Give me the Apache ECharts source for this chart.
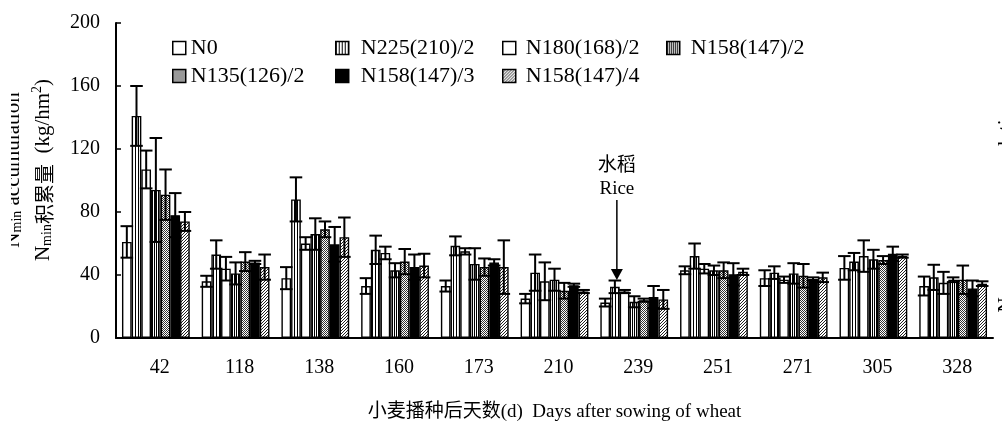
<!DOCTYPE html>
<html><head><meta charset="utf-8">
<script src="https://cdn.jsdelivr.net/npm/echarts@6/dist/echarts.min.js"></script>
<style>html,body{margin:0;padding:0;background:#fff}#c{width:1002px;height:427px}</style>
</head><body><div id="c"></div>
<script>
// ---- data ----
const categories = ['42','118','138','160','173','210','239','251','271','305','328'];
const seriesNames = ['N0','N225(210)/2','N180(168)/2','N158(147)/2','N135(126)/2','N158(147)/3','N158(147)/4'];
const vN0      = [61, 36, 38, 33, 33, 25, 22.5, 43, 38, 44.5, 33];
const eN0      = [10, 3.5, 7, 5, 3.5, 3, 2.5, 2.5, 5, 7.5, 6];
const vN225    = [141, 53, 88, 56, 58.5, 41.5, 32.5, 52, 41.5, 48.5, 38.5];
const eN225    = [19, 9, 14, 9, 6, 11.5, 4, 8, 4, 5.5, 8];
const vN180    = [107, 44, 60, 54, 55, 36, 29.5, 44, 37, 52, 35];
const eN180    = [12, 7.5, 4, 4, 2, 12, 1, 3, 2, 10, 7];
const vN158_2  = [94, 41, 66, 43, 47, 37, 23, 43, 41, 50, 37];
const eN158_2  = [33, 7, 10, 4.5, 10, 7, 3.5, 3, 6.5, 6, 1.5];
const vN135    = [91, 48.5, 69, 48.5, 45, 30, 24, 43, 39.5, 49.5, 37];
const eN135    = [16, 6, 5, 8, 5.5, 5, 1, 5, 7.5, 2.5, 9];
const vN158_3  = [78, 48, 59.5, 45, 48, 33.5, 26, 40.5, 37.5, 53.5, 31.5];
const eN158_3  = [14, 1, 11, 8, 2, 1, 7, 7, 1, 4.5, 5];
const vN158_4  = [74, 45, 64, 46, 45, 29.5, 24.5, 42, 38.5, 52, 34.5];
const eN158_4  = [6, 8, 12.5, 7.5, 17, 1, 6, 2, 3, 1, 1.5];
const yTicks = {min: 0, max: 200, interval: 40};
// annotation: [category index, arrow tip, arrow top, "Rice" y, "水稻" y]
const riceNote = [6, 36.8, 87.6, 94.6, 110.5];

const values = [vN0, vN225, vN180, vN158_2, vN135, vN158_3, vN158_4];
const errors = [eN0, eN225, eN180, eN158_2, eN135, eN158_3, eN158_4];

// ---- patterns ----
function pat(w, h, draw) {
  const c = document.createElement('canvas'); c.width = w; c.height = h;
  const g = c.getContext('2d'); g.fillStyle = '#fff'; g.fillRect(0, 0, w, h);
  g.fillStyle = '#000'; draw(g);
  return {image: c, repeat: 'repeat'};
}
const fills = [
  '#ffffff',
  pat(3, 1, g => g.fillRect(0, 0, 1, 1)),
  '#ffffff',
  pat(2, 1, g => g.fillRect(0, 0, 1, 1)),
  pat(2, 2, g => { g.fillStyle = '#333'; g.fillRect(0, 0, 1, 1); g.fillRect(1, 1, 1, 1); }),
  '#000000',
  pat(3, 3, g => { g.fillStyle = '#222'; g.fillRect(0, 2, 1, 1); g.fillRect(1, 1, 1, 1); g.fillRect(2, 0, 1, 1); })
];

const SERIF = '"Liberation Serif", "Times New Roman", serif';
const CAT_GAP = 0.15, NB = 7;

function errRender(s) {
  return function (params, api) {
    const i = api.value(0), v = api.value(1), e = api.value(2);
    const band = api.size([1, 0])[0];
    const bw = band * (1 - CAT_GAP) / NB;
    const x = api.coord([i, v])[0] + (s - 3) * bw;
    const yT = api.coord([i, v + e])[1], yB = api.coord([i, v - e])[1];
    const cw = bw * 0.65;
    const st = {stroke: '#000', lineWidth: 2};
    return {type: 'group', children: [
      {type: 'line', shape: {x1: x, y1: yT, x2: x, y2: yB}, style: st},
      {type: 'line', shape: {x1: x - cw, y1: yT, x2: x + cw, y2: yT}, style: st},
      {type: 'line', shape: {x1: x - cw, y1: yB, x2: x + cw, y2: yB}, style: st}
    ]};
  };
}

const series = [];
seriesNames.forEach((name, s) => {
  series.push({
    type: 'bar', name: name, data: values[s],
    barGap: '0%', barCategoryGap: (CAT_GAP * 100) + '%',
    itemStyle: {color: fills[s], borderColor: '#000', borderWidth: 1.4},
    silent: true, z: 2
  });
});
seriesNames.forEach((name, s) => {
  series.push({
    type: 'custom', name: name + ' SD', silent: true, z: 3,
    renderItem: errRender(s),
    data: categories.map((c, i) => [i, values[s][i], errors[s][i]])
  });
});
series.push({
  type: 'custom', name: 'rice', silent: true, z: 4,
  data: [riceNote],
  renderItem: function (params, api) {
    const i = api.value(0);
    const band = api.size([1, 0])[0];
    const bw = band * (1 - CAT_GAP) / NB;
    const x = api.coord([i, 0])[0] + (1 - 3) * bw + 2;
    const yTip = api.coord([i, api.value(1)])[1];
    const yTop = api.coord([i, api.value(2)])[1];
    const yRice = api.coord([i, api.value(3)])[1];
    const yZh = api.coord([i, api.value(4)])[1];
    return {type: 'group', children: [
      {type: 'line', shape: {x1: x, y1: yTop, x2: x, y2: yTip - 8}, style: {stroke: '#000', lineWidth: 1.5}},
      {type: 'polygon', shape: {points: [[x - 6, yTip - 11], [x + 6, yTip - 11], [x, yTip]]}, style: {fill: '#000'}},
      {type: 'text', x: x, y: yRice, style: {text: 'Rice', font: '19px ' + SERIF, fill: '#000', align: 'center', verticalAlign: 'middle'}},
      {type: 'text', x: x, y: yZh, style: {text: '水稻', font: '19px "Noto Sans CJK SC", sans-serif', fill: '#000', align: 'center', verticalAlign: 'middle'}}
    ]};
  }
});

const legPos = [[172, 48, 0], [335, 48, 7], [502, 48, 5], [666, 48, 6], [172, 76, 0], [335, 76, 7], [502, 76, 5]];
const legends = seriesNames.map((name, s) => ({
  data: [name], left: legPos[s][0], top: legPos[s][1] - 11, padding: 0,
  itemWidth: 13, itemHeight: 13, icon: 'rect', selectedMode: false,
  itemStyle: {borderColor: '#000', borderWidth: 1.5},
  textStyle: {fontFamily: SERIF, fontSize: 22, color: '#000', padding: [0, 0, 0, legPos[s][2]]}
}));

const richY = {
  n: {fontFamily: SERIF + ', "Noto Sans CJK SC"', fontSize: 21, color: '#000', lineHeight: 24, verticalAlign: 'bottom'},
  z: {fontFamily: '"Noto Sans CJK SC", sans-serif', fontSize: 20, color: '#000', lineHeight: 24, verticalAlign: 'bottom'},
  s: {fontFamily: SERIF, fontSize: 14, color: '#000', lineHeight: 14, verticalAlign: 'bottom'},
  p: {fontFamily: SERIF, fontSize: 14, color: '#000', lineHeight: 14, verticalAlign: 'top'}
};

const chart = echarts.init(document.getElementById('c'), null, {renderer: 'canvas'});
chart.setOption({
  animation: false,
  backgroundColor: '#fff',
  grid: {left: 116, right: 9, top: 23, bottom: 89, containLabel: false},
  legend: legends,
  xAxis: {
    type: 'category', data: categories,
    axisLine: {lineStyle: {color: '#000', width: 2}},
    axisTick: {inside: true, length: 5, lineStyle: {color: '#000', width: 1.5}},
    axisLabel: {color: '#000', fontFamily: SERIF, fontSize: 20, margin: 20, padding: [0, 0, 0, 8]},
    name: '小麦播种后天数(d)  Days after sowing of wheat',
    nameLocation: 'middle', nameGap: 65,
    nameTextStyle: {fontFamily: SERIF + ', "Noto Sans CJK SC"', fontSize: 19, color: '#000'}
  },
  yAxis: {
    type: 'value', min: yTicks.min, max: yTicks.max, interval: yTicks.interval,
    axisLine: {show: true, lineStyle: {color: '#000', width: 2}},
    axisTick: {show: true, inside: true, length: 5, lineStyle: {color: '#000', width: 1.5}},
    splitLine: {show: false},
    axisLabel: {color: '#000', fontFamily: SERIF, fontSize: 20, margin: 16}
  },
  graphic: [
    {type: 'text', x: 42, y: 170, rotation: Math.PI / 2, silent: true,
     style: {text: '{n|N}{s|min}{z|积累量}{n|  (kg/hm}{p|2}{n|)}', rich: richY, align: 'center', verticalAlign: 'middle'}},
    {type: 'text', x: 12, y: 170, rotation: Math.PI / 2, silent: true, z: 1,
     style: {text: '{n|N}{s|min}{n| accumulation}', rich: richY, align: 'center', verticalAlign: 'middle'}},
    {type: 'rect', silent: true, z: 5, shape: {x: 0, y: 70, width: 11, height: 200}, style: {fill: '#fff'}},
    {type: 'text', x: 1006, y: 155, rotation: Math.PI / 2, silent: true,
     style: {text: 'accumulation', font: '21px ' + SERIF, fill: '#000', align: 'center', verticalAlign: 'middle'}},
    {type: 'text', x: 1006, y: 305, rotation: Math.PI / 2, silent: true,
     style: {text: 'N', font: '21px ' + SERIF, fill: '#000', align: 'center', verticalAlign: 'middle'}}
  ],
  series: series
});
</script></body></html>
